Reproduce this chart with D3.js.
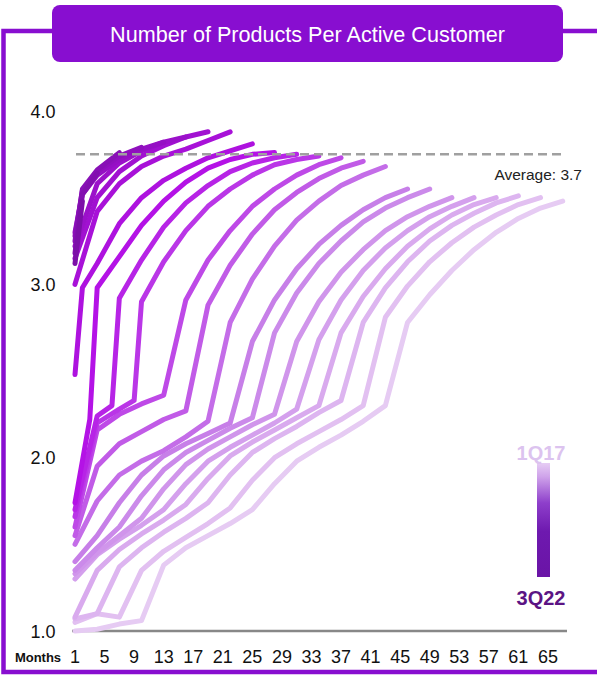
<!DOCTYPE html>
<html><head><meta charset="utf-8">
<script src="https://cdn.jsdelivr.net/npm/d3@7"></script>
<style>
html,body{margin:0;padding:0;background:#fff;}
svg{display:block;font-family:"Liberation Sans",Arial,Helvetica,sans-serif;}
</style></head>
<body><svg id="chart" width="597" height="677"></svg>
<script>
const title = "Number of Products Per Active Customer";
const monthTicks = [1,5,9,13,17,21,25,29,33,37,41,45,49,53,57,61,65];
const valueTicks = [1.0, 2.0, 3.0, 4.0];
const averageValue = 3.75;
const averageLabel = "Average: 3.7";
const cohortLabels = ["1Q17","2Q17","3Q17","4Q17","1Q18","2Q18","3Q18","4Q18","1Q19","2Q19","3Q19","4Q19",
  "1Q20","2Q20","3Q20","4Q20","1Q21","2Q21","3Q21","4Q21","1Q22","2Q22","3Q22"];
// [month, products per active customer], one list per cohort
const cohortPoints = [
  [[1,1.00],[4,1.01],[7,1.04],[10,1.06],[13,1.38],[16,1.48],[19,1.55],[22,1.62],[25,1.70],[28,1.85],[31,1.98],[34,2.06],[37,2.13],[40,2.21],[43,2.30],[46,2.78],[49,2.94],[52,3.08],[55,3.20],[58,3.30],[61,3.38],[64,3.44],[67,3.48]],
  [[1,1.05],[4,1.10],[7,1.08],[10,1.35],[13,1.46],[16,1.54],[19,1.62],[22,1.71],[25,1.87],[28,2.00],[31,2.08],[34,2.15],[37,2.22],[40,2.30],[43,2.81],[46,2.99],[49,3.13],[52,3.24],[55,3.33],[58,3.40],[61,3.46],[64,3.50]],
  [[1,1.07],[4,1.10],[7,1.37],[10,1.48],[13,1.57],[16,1.65],[19,1.74],[22,1.90],[25,2.03],[28,2.11],[31,2.18],[34,2.26],[37,2.33],[40,2.78],[43,2.98],[46,3.13],[49,3.25],[52,3.34],[55,3.41],[58,3.47],[61,3.51]],
  [[1,1.08],[4,1.35],[7,1.47],[10,1.56],[13,1.64],[16,1.73],[19,1.88],[22,2.01],[25,2.09],[28,2.16],[31,2.23],[34,2.30],[37,2.72],[40,2.93],[43,3.09],[46,3.22],[49,3.32],[52,3.40],[55,3.46],[58,3.50]],
  [[1,1.30],[4,1.44],[7,1.53],[10,1.61],[13,1.70],[16,1.85],[19,1.98],[22,2.06],[25,2.13],[28,2.20],[31,2.28],[34,2.68],[37,2.91],[40,3.08],[43,3.21],[46,3.31],[49,3.39],[52,3.45],[55,3.50]],
  [[1,1.33],[4,1.45],[7,1.55],[10,1.65],[13,1.82],[16,1.96],[19,2.05],[22,2.12],[25,2.19],[28,2.25],[31,2.67],[34,2.90],[37,3.07],[40,3.20],[43,3.31],[46,3.39],[49,3.45],[52,3.50]],
  [[1,1.35],[4,1.48],[7,1.60],[10,1.78],[13,1.93],[16,2.03],[19,2.10],[22,2.17],[25,2.23],[28,2.72],[31,2.95],[34,3.12],[37,3.25],[40,3.36],[43,3.44],[46,3.50],[49,3.55]],
  [[1,1.40],[4,1.55],[7,1.74],[10,1.90],[13,2.01],[16,2.08],[19,2.14],[22,2.20],[25,2.67],[28,2.91],[31,3.09],[34,3.23],[37,3.34],[40,3.43],[43,3.50],[46,3.55]],
  [[1,1.50],[4,1.75],[7,1.90],[10,1.98],[13,2.04],[16,2.12],[19,2.21],[22,2.78],[25,3.03],[28,3.22],[31,3.37],[34,3.48],[37,3.57],[40,3.63],[43,3.68]],
  [[1,1.55],[4,1.95],[7,2.08],[10,2.15],[13,2.22],[16,2.27],[19,2.88],[22,3.11],[25,3.29],[28,3.43],[31,3.53],[34,3.61],[37,3.67],[40,3.71]],
  [[1,1.60],[4,2.16],[7,2.25],[10,2.31],[13,2.36],[16,2.91],[19,3.14],[22,3.31],[25,3.45],[28,3.55],[31,3.63],[34,3.69],[37,3.73]],
  [[1,1.66],[4,2.20],[7,2.28],[9,2.33],[10,2.90],[13,3.13],[16,3.31],[19,3.45],[22,3.55],[25,3.63],[28,3.69],[31,3.72],[34,3.74]],
  [[1,1.70],[4,2.24],[6,2.30],[7,2.92],[10,3.14],[13,3.33],[16,3.47],[19,3.57],[22,3.65],[25,3.70],[28,3.73],[31,3.75]],
  [[1,1.74],[3,2.22],[4,2.98],[7,3.16],[10,3.34],[13,3.48],[16,3.59],[19,3.67],[22,3.72],[25,3.75],[28,3.76]],
  [[1,2.48],[2,2.98],[4,3.12],[7,3.35],[10,3.50],[13,3.60],[16,3.67],[19,3.73],[22,3.77],[25,3.81]],
  [[1,3.00],[4,3.42],[7,3.58],[10,3.68],[13,3.74],[16,3.78],[19,3.83],[22,3.88]],
  [[1,3.15],[4,3.50],[7,3.65],[10,3.74],[13,3.80],[16,3.85],[19,3.88]],
  [[1,3.22],[4,3.58],[7,3.70],[10,3.77],[13,3.82],[16,3.85]],
  [[1,3.30],[2,3.52],[4,3.63],[7,3.72],[10,3.78],[13,3.82]],
  [[1,3.28],[2,3.54],[4,3.65],[7,3.74],[10,3.79]],
  [[1,3.25],[2,3.55],[4,3.66],[7,3.76]],
  [[1,3.18],[2,3.52],[4,3.64]],
  [[1,3.12],[2,3.48]]
];

const svg = d3.select("#chart");
const x = d3.scaleLinear().domain([1, 69]).range([75, 577.5]);
const y = d3.scaleLinear().domain([1, 4]).range([631, 111]);
const color = d3.scaleLinear().domain([0, 7, 13, 22])
  .range(["#e6cbf3", "#c77fe8", "#b412e6", "#7c0fa8"]).interpolate(d3.interpolateRgb);

// frame
const frameColor = "#880ed0";
svg.append("path")
  .attr("d", "M52,31 H3.5 V672 H597 M563,31 H597")
  .attr("fill", "none").attr("stroke", frameColor).attr("stroke-width", 4.5);
svg.append("rect").attr("x", 52).attr("y", 5).attr("width", 511).attr("height", 57)
  .attr("rx", 8).attr("fill", frameColor);
svg.append("text").attr("x", 307.5).attr("y", 41.5).attr("text-anchor", "middle")
  .attr("fill", "#fff").attr("font-size", 21.6).text(title);

// baseline
svg.append("line").attr("x1", 72).attr("x2", 567).attr("y1", y(1)).attr("y2", y(1))
  .attr("stroke", "#888").attr("stroke-width", 2.5);

// y labels
svg.selectAll("text.yl").data(valueTicks).join("text").attr("class", "yl")
  .attr("x", 43).attr("y", d => y(d) + 6.5).attr("text-anchor", "middle")
  .attr("font-size", 18).attr("fill", "#111").text(d => d3.format(".1f")(d));

// x labels
svg.selectAll("text.xl").data(monthTicks).join("text").attr("class", "xl")
  .attr("x", d => x(d)).attr("y", 663).attr("text-anchor", "middle")
  .attr("font-size", 18).attr("fill", "#111").text(d => d);
svg.append("text").attr("x", 38).attr("y", 662).attr("text-anchor", "middle")
  .attr("font-size", 13).attr("font-weight", "bold").attr("fill", "#111").text("Months");

// cohort lines
const line = d3.line().x(d => x(d[0])).y(d => y(d[1]));
svg.append("g").selectAll("path").data(cohortPoints).join("path")
  .attr("d", line).attr("fill", "none")
  .attr("stroke", (d, i) => color(i)).attr("stroke-width", 5)
  .attr("stroke-linecap", "round").attr("stroke-linejoin", "round");

// average line
svg.append("line").attr("x1", 76).attr("x2", 562).attr("y1", y(averageValue)).attr("y2", y(averageValue))
  .attr("stroke", "#a0a0a0").attr("stroke-width", 2.5).attr("stroke-dasharray", "9,5");
svg.append("text").attr("x", 582).attr("y", 180).attr("text-anchor", "end")
  .attr("font-size", 15.5).attr("fill", "#222").text(averageLabel);

// legend
const defs = svg.append("defs");
const grad = defs.append("linearGradient").attr("id", "lg").attr("x1", 0).attr("x2", 0).attr("y1", 0).attr("y2", 1);
[[0, "#e6cdf4"], [0.12, "#cfa3ea"], [0.35, "#8e3fcb"], [0.6, "#6e19af"], [1, "#6a14a6"]]
  .forEach(s => grad.append("stop").attr("offset", s[0]).attr("stop-color", s[1]));
svg.append("rect").attr("x", 537).attr("y", 463).attr("width", 13).attr("height", 114).attr("fill", "url(#lg)");
svg.append("text").attr("x", 541).attr("y", 460).attr("text-anchor", "middle").attr("font-size", 20)
  .attr("font-weight", "bold").attr("fill", "#dcc3ef").text(cohortLabels[0]);
svg.append("text").attr("x", 541).attr("y", 605).attr("text-anchor", "middle").attr("font-size", 20)
  .attr("font-weight", "bold").attr("fill", "#5b1484").text(cohortLabels[cohortLabels.length - 1]);
</script></body></html>
